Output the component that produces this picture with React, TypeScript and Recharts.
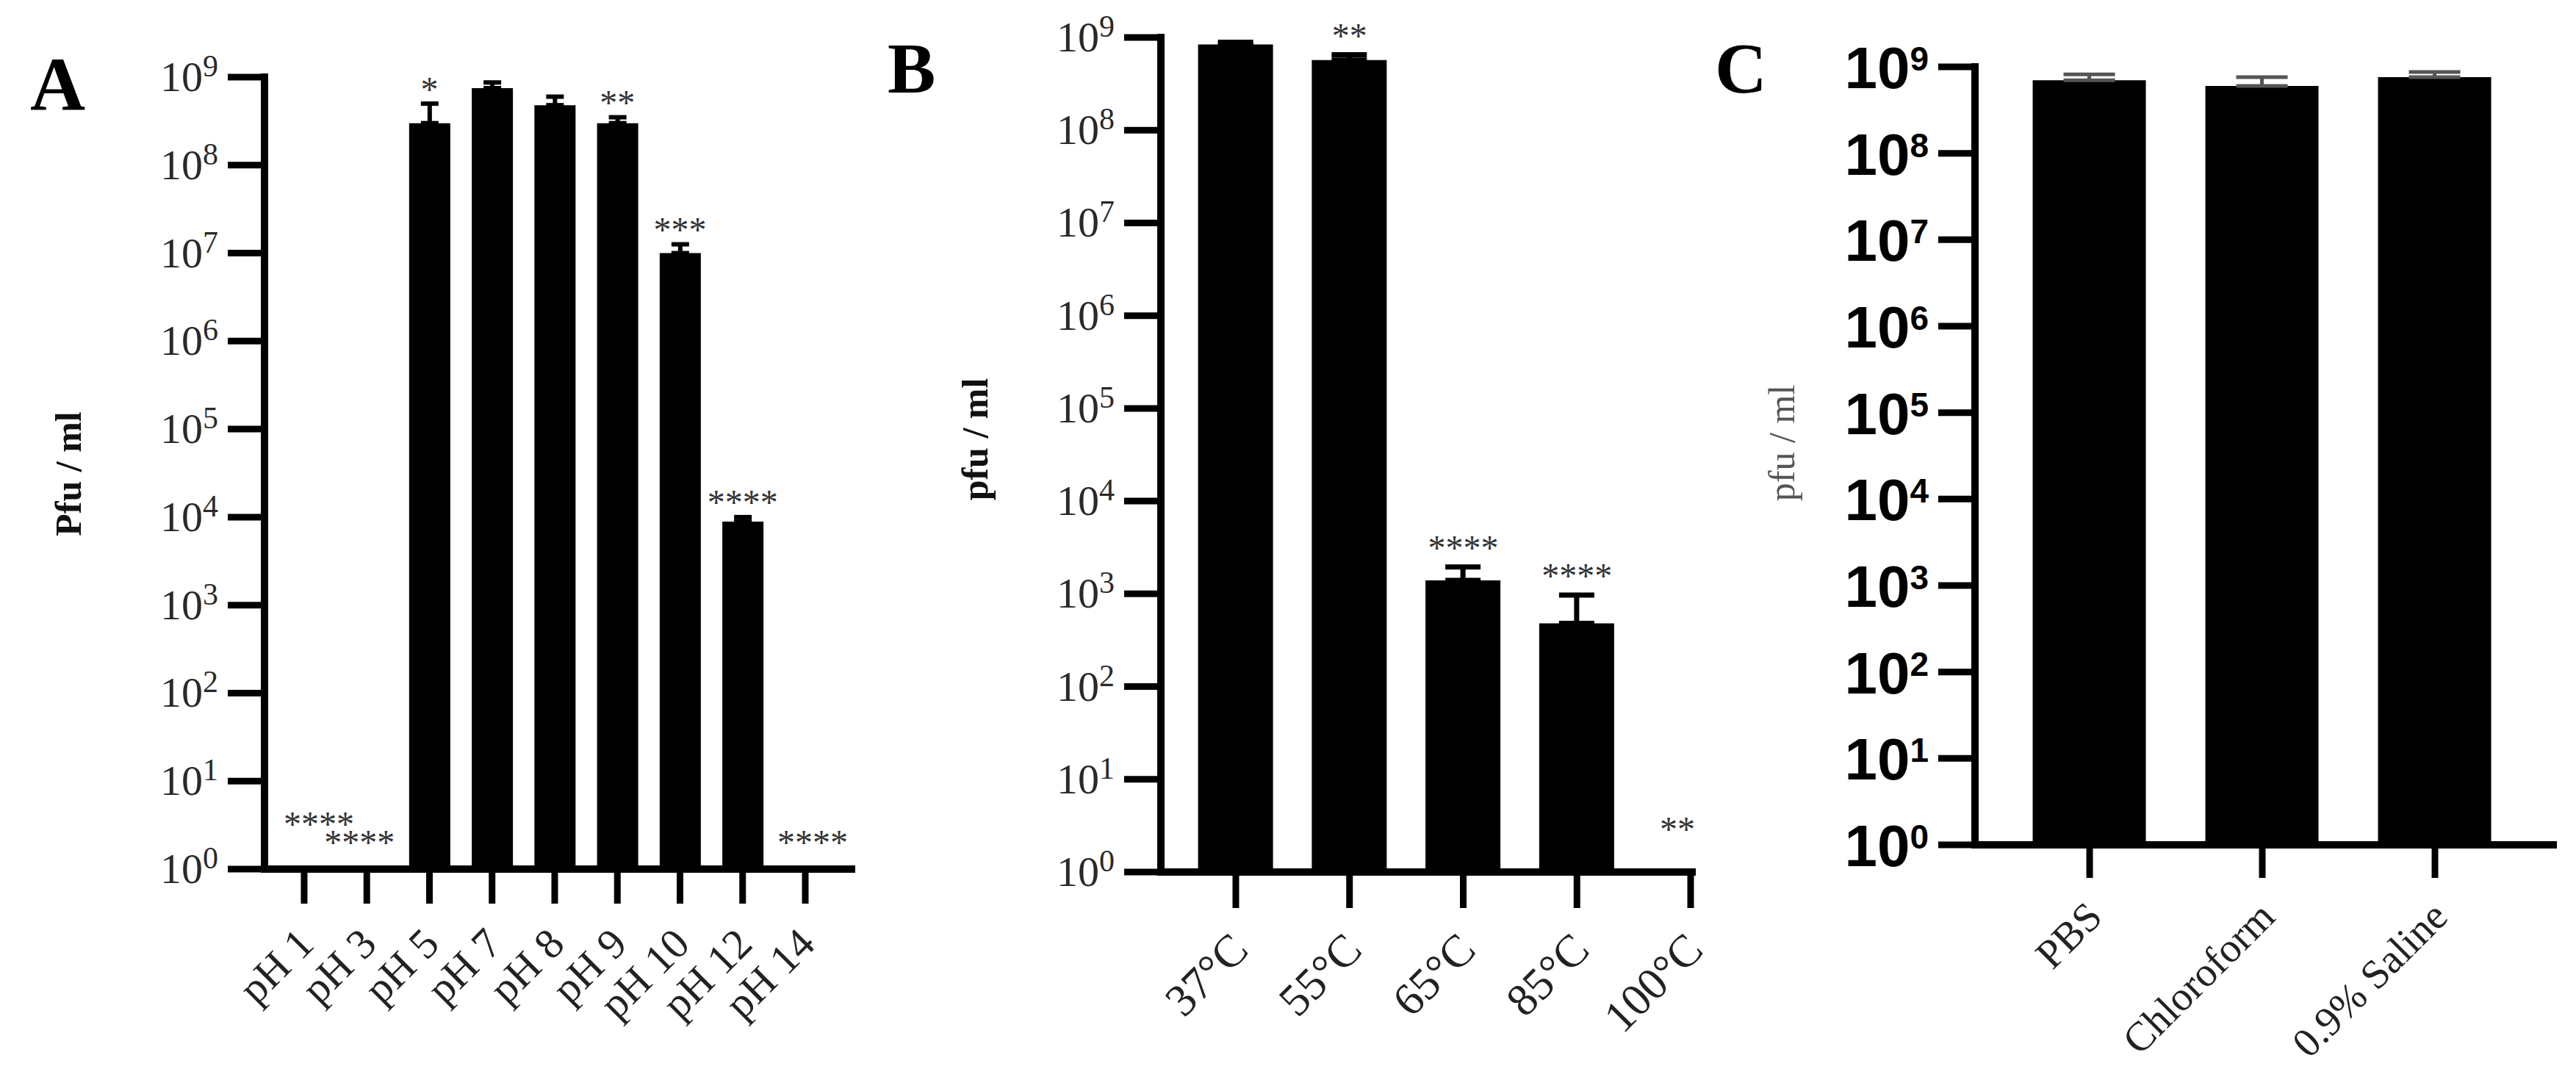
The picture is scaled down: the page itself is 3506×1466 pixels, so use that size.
import React from "react";
import { BarChart, Bar, XAxis, YAxis, ErrorBar, ReferenceDot } from "recharts";

const PAGE_W = 3506;
const PAGE_H = 1466;

const decadeTicks = [1, 1e1, 1e2, 1e3, 1e4, 1e5, 1e6, 1e7, 1e8, 1e9];

// A: pH stability
const phLabels = ["pH 1", "pH 3", "pH 5", "pH 7", "pH 8", "pH 9", "pH 10", "pH 12", "pH 14"];
const phTiter = [null, null, 3.0e8, 7.5e8, 4.8e8, 3.0e8, 1.0e7, 8.9e3, null];
const phSem = [null, null, 2.0e8, 1.2e8, 1.2e8, 0.5e8, 2.6e6, 1.1e3, null];
const phSig = ["****", "****", "*", "", "", "**", "***", "****", "****"];
// decades above 10^0 where the stars of the no-plaque groups sit
const phFloorLift = [0.58, 0.37, 0, 0, 0, 0, 0, 0, 0.37];
const phStarShift = [20, -10, 0, 0, 0, 0, 0, 0, 10];

// B: thermal stability
const tempLabels = ["37°C", "55°C", "65°C", "85°C", "100°C"];
const tempTiter = [8.4e8, 5.7e8, 1.4e3, 4.8e2, null];
const tempSem = [0.5e8, 0.8e8, 0.55e3, 4.9e2, null];
const tempSig = ["", "**", "****", "****", "**"];
const tempFloorLift = [0, 0, 0, 0, 0.52];
const tempStarShift = [0, 0, 0, 0, -18];

// C: solvents
const solventLabels = ["PBS", "Chloroform", "0.9% Saline"];
const solventTiter = [7.0e8, 6.0e8, 7.6e8];
const solventSem = [1.2e8, 1.6e8, 1.1e8];
const solventSig = ["", "", ""];
const solventFloorLift = [0, 0, 0];
const solventStarShift = [0, 0, 0];

const SERIF = "'Liberation Serif', 'Times New Roman', serif";
const SANS = "'Liberation Sans', Arial, sans-serif";

function DecadeTick(props: any) {
  const { x, y, payload, sans } = props;
  const exp = Math.round(Math.log10(payload.value));
  if (sans) {
    return (
      <text x={x} y={y + 29} textAnchor="end" fontFamily={SANS} fontWeight={700} fontSize={80} fill="#000">
        10
        <tspan dy={-24} fontSize={46}>{exp}</tspan>
      </text>
    );
  }
  return (
    <text x={x} y={y + 19} textAnchor="end" fontFamily={SERIF} fontSize={58} fill="#2a2a2a">
      10
      <tspan dy={-20} fontSize={42}>{exp}</tspan>
    </text>
  );
}

function CategoryTick(props: any) {
  const { x, y, payload, labels, dx, dy, fontSize } = props;
  const label = labels[Math.round(payload.value)];
  return (
    <text
      transform={`translate(${x + dx},${y + dy}) rotate(-45)`}
      textAnchor="end"
      fontFamily={SERIF}
      fontSize={fontSize}
      fill="#222"
    >
      {label}
    </text>
  );
}

function Panel(props: any) {
  const { geo, labels, titer, sem, sig, floorLift, starShift, starGap, sansY, xTick, errColor, errStroke, cap } = props;
  const data = labels.map((label: string, i: number) => ({
    idx: i,
    label,
    titer: titer[i],
    err: sem[i] == null ? null : [0, sem[i]],
  }));
  const marks = sig
    .map((s: string, i: number) => {
      if (!s) return null;
      const level = titer[i] == null ? Math.pow(10, floorLift[i]) : (titer[i] + sem[i]) * Math.pow(10, starGap);
      return { i, s, level, shift: starShift[i] };
    })
    .filter(Boolean);

  return (
    <div style={{ position: "absolute", left: geo.left, top: 0 }}>
      <BarChart
        width={geo.width}
        height={PAGE_H}
        data={data}
        margin={{ top: geo.plotTop, right: geo.left + geo.width - geo.plotRight, bottom: 0, left: 0 }}
      >
        <XAxis
          type="number"
          dataKey="idx"
          domain={geo.domain}
          ticks={data.map((d: any) => d.idx)}
          interval={0}
          allowDataOverflow
          height={PAGE_H - geo.plotBottom}
          tickSize={geo.xTickLen}
          tickMargin={0}
          axisLine={{ stroke: "#000", strokeWidth: 10, strokeLinecap: "square" }}
          tickLine={{ stroke: "#000", strokeWidth: 9 }}
          tick={(p: any) => <CategoryTick {...p} labels={labels} {...xTick} />}
        />
        <YAxis
          type="number"
          scale="log"
          domain={[1, 1e9]}
          ticks={decadeTicks}
          interval={0}
          allowDataOverflow
          width={geo.plotLeft - geo.left}
          tickSize={50}
          tickMargin={13}
          axisLine={{ stroke: "#000", strokeWidth: 10, strokeLinecap: "square" }}
          tickLine={{ stroke: "#000", strokeWidth: 9 }}
          tick={(p: any) => <DecadeTick {...p} sans={sansY} />}
        />
        <Bar dataKey="titer" fill="#000" barSize={geo.barSize} isAnimationActive={false}>
          <ErrorBar
            dataKey="err"
            direction="y"
            width={cap}
            stroke={errColor}
            strokeWidth={errStroke}
            isAnimationActive={false}
          />
        </Bar>
        {marks.map((m: any) => (
          <ReferenceDot
            key={m.i}
            x={m.i}
            y={m.level}
            ifOverflow="visible"
            shape={(p: any) => (
              <text x={p.cx + m.shift} y={p.cy + 24} textAnchor="middle" fontFamily={SERIF} fontSize={48} fill="#333">
                {m.s}
              </text>
            )}
          />
        ))}
      </BarChart>
    </div>
  );
}

const geoA = { left: 0, width: 1200, plotLeft: 360, plotTop: 105, plotRight: 1159, plotBottom: 1183, domain: [-0.633, 8.739], barSize: 56, xTickLen: 47 };
const geoB = { left: 1200, width: 1150, plotLeft: 1580, plotTop: 51, plotRight: 2303, plotBottom: 1187, domain: [-0.659, 4.013], barSize: 102, xTickLen: 49 };
const geoC = { left: 2350, width: 1156, plotLeft: 2688, plotTop: 91, plotRight: 3475, plotBottom: 1150, domain: [-0.664, 2.685], barSize: 154, xTickLen: 45 };

export default function App() {
  return (
    <div style={{ position: "absolute", left: 0, top: 0, width: PAGE_W, height: PAGE_H, background: "#fff", overflow: "hidden" }}>
      <Panel
        geo={geoA}
        labels={phLabels}
        titer={phTiter}
        sem={phSem}
        sig={phSig}
        floorLift={phFloorLift}
        starShift={phStarShift}
        starGap={0.23}
        sansY={false}
        xTick={{ dx: 16, dy: 58, fontSize: 58 }}
        errColor="#000"
        errStroke={6}
        cap={12}
      />
      <Panel
        geo={geoB}
        labels={tempLabels}
        titer={tempTiter}
        sem={tempSem}
        sig={tempSig}
        floorLift={tempFloorLift}
        starShift={tempStarShift}
        starGap={0.27}
        sansY={false}
        xTick={{ dx: 20, dy: 60, fontSize: 62 }}
        errColor="#000"
        errStroke={7}
        cap={24}
      />
      <Panel
        geo={geoC}
        labels={solventLabels}
        titer={solventTiter}
        sem={solventSem}
        sig={solventSig}
        floorLift={solventFloorLift}
        starShift={solventStarShift}
        starGap={0.25}
        sansY={true}
        xTick={{ dx: 20, dy: 56, fontSize: 56 }}
        errColor="#555"
        errStroke={5}
        cap={35}
      />
      <svg width={PAGE_W} height={PAGE_H} style={{ position: "absolute", left: 0, top: 0, pointerEvents: "none" }}>
        <text x={41} y={150} fontFamily={SERIF} fontWeight={700} fontSize={104} fill="#000">A</text>
        <text x={1208} y={126} fontFamily={SERIF} fontWeight={700} fontSize={98} fill="#000">B</text>
        <text x={2334} y={126} fontFamily={SERIF} fontWeight={700} fontSize={98} fill="#000">C</text>
        <text transform="translate(110,645) rotate(-90)" textAnchor="middle" fontFamily={SERIF} fontWeight={700} fontSize={50} fill="#111">
          Pfu / ml
        </text>
        <text transform="translate(1344,598) rotate(-90)" textAnchor="middle" fontFamily={SERIF} fontWeight={700} fontSize={50} fill="#111">
          pfu / ml
        </text>
        <text transform="translate(2442,603) rotate(-90)" textAnchor="middle" fontFamily={SERIF} fontSize={50} fill="#555">
          pfu / ml
        </text>
      </svg>
    </div>
  );
}
